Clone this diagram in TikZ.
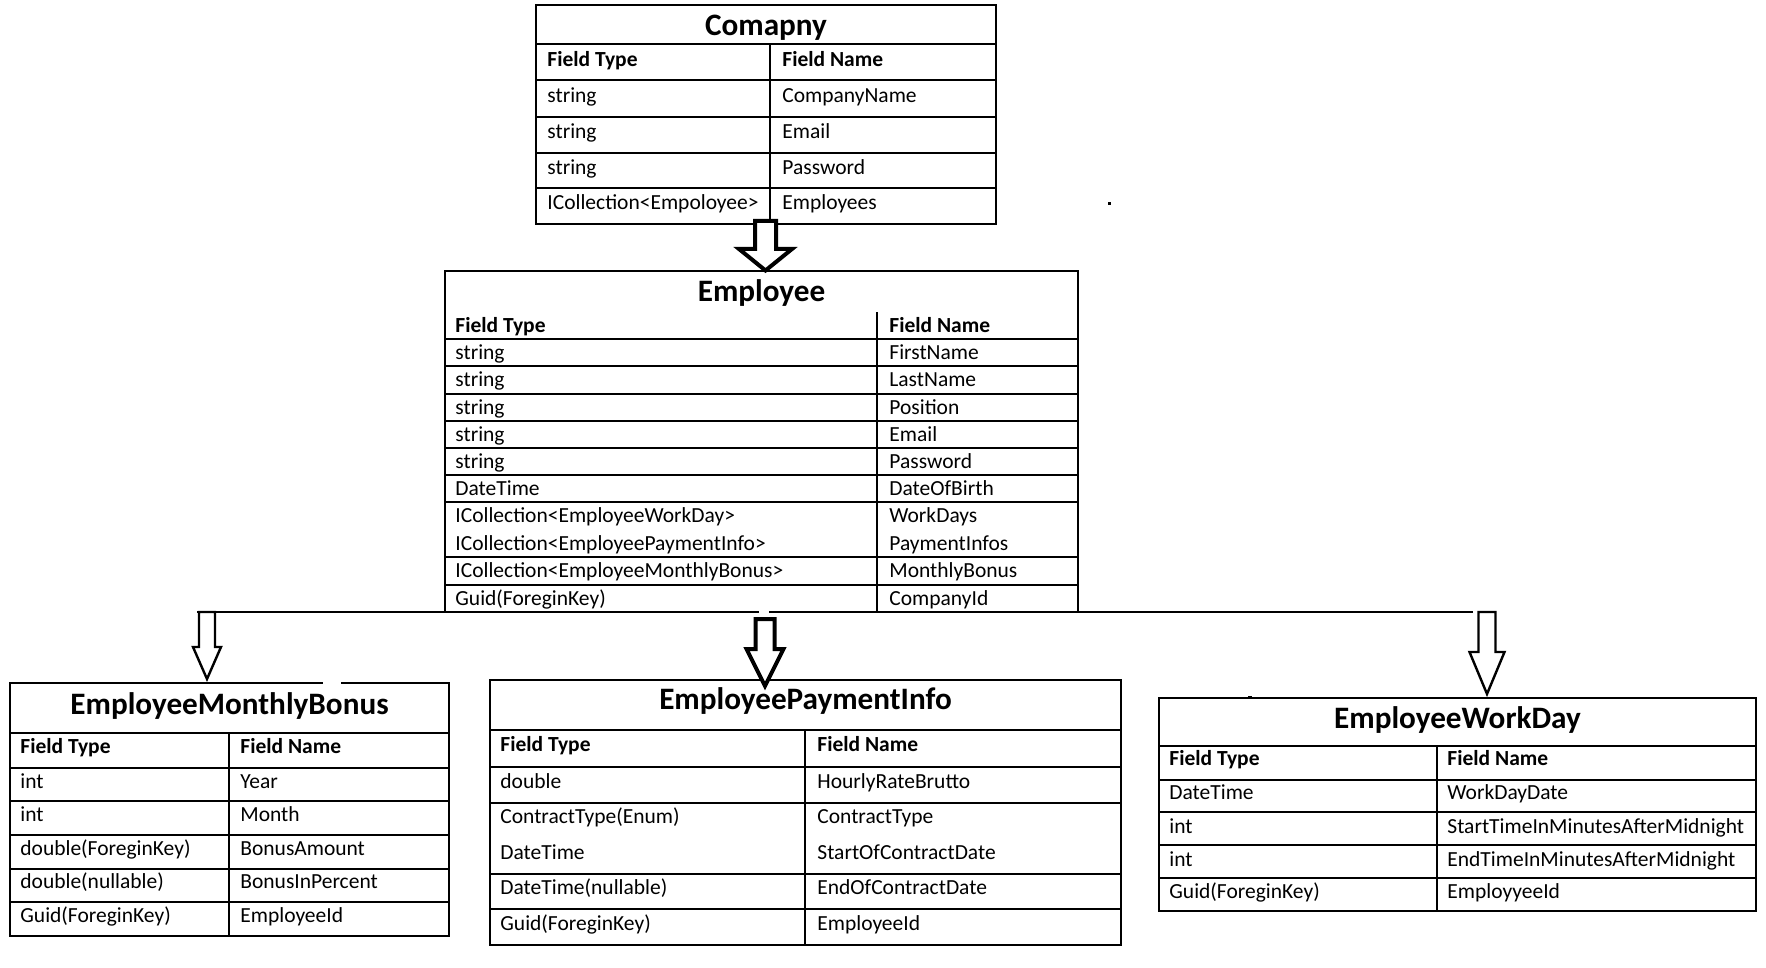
\documentclass[tikz,border=0pt]{standalone}
\usepackage{fontspec}
\setmainfont{Carlito}
\usetikzlibrary{calc,fit}
\newcommand\myblockarrow[6]{\draw[#1] ($(#2)+(-#4,0)$) -- ($(#3)+(-#4,-#6)$) -- ($(#3)+(-#5,-#6)$) -- (#3) -- ($(#3)+(#5,-#6)$) -- ($(#3)+(#4,-#6)$) -- ($(#2)+(#4,0)$) -- cycle;}
\tikzset{
 tbl/.style={draw, line width=0.75pt, inner sep=0pt, outer sep=0pt},
 gridline/.style={line width=0.75pt},
 cell/.style={anchor=west, inner sep=0pt, text height=6.8pt, text depth=0pt, font=\fontsize{10.75pt}{12pt}\selectfont},
 hdr/.style={cell, font=\fontsize{10.75pt}{12pt}\selectfont\bfseries},
 ttl/.style={anchor=center, inner sep=0pt, text height=9.9pt, text depth=0pt, font=\fontsize{15.6pt}{18pt}\selectfont\bfseries},
 conn/.style={line width=1.4pt},
 barrowthick/.style={draw, fill=white, line width=2pt, line join=miter},
 barrowthin/.style={draw, fill=white, line width=1.2pt, line join=miter},
 gap/.style={white, line width=2.2pt},
}
\begin{document}
\begin{tikzpicture}[x=0.5pt, y=-0.5pt]
\useasboundingbox (0,0) rectangle (1766,968);

% ---------- Company ----------
\node[tbl, fit={(536,5) (996,224)}] (comp) {};
\foreach \y in {44,80,117,153,188} \draw[gridline] (536,\y) -- (996,\y);
\draw[gridline] (770,44) -- (770,224);
\node[ttl] (comp-title) at (766,26) {Comapny};
\node[hdr] (comp-h1) at (547,60) {Field Type};
\node[hdr] (comp-h2) at (782,60) {Field Name};
\foreach \y/\a/\b [count=\i] in {95.5/string/CompanyName, 132/string/Email, 167.5/string/Password, 203/ICollection<Empoloyee>/Employees}{
  \node[cell] (comp-a\i) at (547,\y) {\a};
  \node[cell] (comp-b\i) at (782,\y) {\b};
}

% ---------- Employee ----------
\node[tbl, fit={(445,271) (1078,612)}] (emp) {};
\foreach \y in {339,366,394,421,448,475,502,557,585} \draw[gridline] (445,\y) -- (1078,\y);
\draw[gridline] (877,312) -- (877,612);
\node[ttl] (emp-title) at (761.5,292) {Employee};
\node[hdr] (emp-h1) at (455,326) {Field Type};
\node[hdr] (emp-h2) at (889,326) {Field Name};
\foreach \y/\a/\b [count=\i] in {352.5/string/FirstName, 380/string/LastName, 407.5/string/Position, 434.5/string/Email, 461.5/string/Password, 488.5/DateTime/DateOfBirth, 516/ICollection<EmployeeWorkDay>/WorkDays, 544/ICollection<EmployeePaymentInfo>/PaymentInfos, 571/ICollection<EmployeeMonthlyBonus>/MonthlyBonus, 598.5/Guid(ForeginKey)/CompanyId}{
  \node[cell] (emp-a\i) at (455,\y) {\a};
  \node[cell] (emp-b\i) at (889,\y) {\b};
}

% ---------- EmployeeMonthlyBonus ----------
\node[tbl, fit={(10,683) (449,936)}] (mb) {};
\foreach \y in {733,768,801,835,869,902} \draw[gridline] (10,\y) -- (449,\y);
\draw[gridline] (229,733) -- (229,936);
\node[ttl] (mb-title) at (229.5,705) {EmployeeMonthlyBonus};
\node[hdr] (mb-h1) at (20,747) {Field Type};
\node[hdr] (mb-h2) at (240,747) {Field Name};
\foreach \y/\a/\b [count=\i] in {782/int/Year, 815/int/Month, 848.5/double(ForeginKey)/BonusAmount, 882/double(nullable)/BonusInPercent, 915.5/Guid(ForeginKey)/EmployeeId}{
  \node[cell] (mb-a\i) at (20,\y) {\a};
  \node[cell] (mb-b\i) at (240,\y) {\b};
}

% ---------- EmployeePaymentInfo ----------
\node[tbl, fit={(490,680) (1121,945)}] (pay) {};
\foreach \y in {730,767,803,874,909} \draw[gridline] (490,\y) -- (1121,\y);
\draw[gridline] (805,730) -- (805,945);
\node[ttl] (pay-title) at (805.5,700) {EmployeePaymentInfo};
\node[hdr] (pay-h1) at (500,745) {Field Type};
\node[hdr] (pay-h2) at (817,745) {Field Name};
\foreach \y/\a/\b [count=\i] in {782/double/HourlyRateBrutto, 817/ContractType(Enum)/ContractType, 852.5/DateTime/StartOfContractDate, 888/DateTime(nullable)/EndOfContractDate, 924/Guid(ForeginKey)/EmployeeId}{
  \node[cell] (pay-a\i) at (500,\y) {\a};
  \node[cell] (pay-b\i) at (817,\y) {\b};
}

% ---------- EmployeeWorkDay ----------
\node[tbl, fit={(1159,698) (1756,911)}] (wd) {};
\foreach \y in {746,780,812,845,878} \draw[gridline] (1159,\y) -- (1756,\y);
\draw[gridline] (1437,746) -- (1437,911);
\node[ttl] (wd-title) at (1457.5,719) {EmployeeWorkDay};
\node[hdr] (wd-h1) at (1169,759) {Field Type};
\node[hdr] (wd-h2) at (1447,759) {Field Name};
\foreach \y/\a/\b [count=\i] in {793/DateTime/WorkDayDate, 827/int/StartTimeInMinutesAfterMidnight, 859.5/int/EndTimeInMinutesAfterMidnight, 892/Guid(ForeginKey)/EmployyeeId}{
  \node[cell] (wd-a\i) at (1169,\y) {\a};
  \node[cell] (wd-b\i) at (1447,\y) {\b};
}

% ---------- small gaps in borders ----------
\draw[gap] (323,683) -- (341,683);
\draw[gap] (759,612) -- (769,612);

% ---------- stray marks ----------
\fill (1107.5,202.5) rectangle (1110.5,205.5);
\fill (1248,695.5) rectangle (1252,696.5);

% ---------- connectors ----------
\coordinate (lh) at (197,612);
\coordinate (rh) at (1473,612);
\draw[conn] (emp.south west) -- (lh);
\draw[conn] (emp.south east) -- (rh);

\coordinate (a1s) at (765.5,221);   \coordinate (a1t) at (765.5,270.5);
\coordinate (a2s) at (207,612);     \coordinate (a2t) at (207,679);
\coordinate (a3s) at (765,619);     \coordinate (a3t) at (765,686);
\coordinate (a4s) at (1487,612);    \coordinate (a4t) at (1487,694);

\myblockarrow{barrowthick}{a1s}{a1t}{10.5}{26.5}{21.5}
\myblockarrow{barrowthin}{a2s}{a2t}{8}{14}{32}
\myblockarrow{barrowthick}{a3s}{a3t}{9.5}{18.5}{37}
\myblockarrow{barrowthin}{a4s}{a4t}{8.5}{17.5}{42}
\end{tikzpicture}
\end{document}
